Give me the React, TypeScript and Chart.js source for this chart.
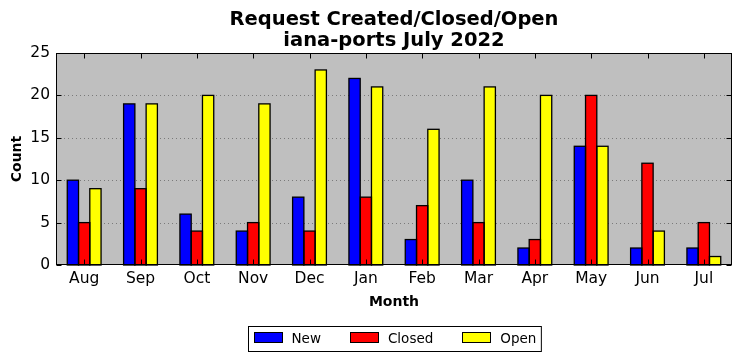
import React, { useEffect, useRef } from 'react';
import { Chart, registerables } from 'chart.js';

Chart.register(...registerables);

const months = ['Aug', 'Sep', 'Oct', 'Nov', 'Dec', 'Jan', 'Feb', 'Mar', 'Apr', 'May', 'Jun', 'Jul'];
const newCounts = [10, 19, 6, 4, 8, 22, 3, 10, 2, 14, 2, 2];
const closedCounts = [5, 9, 4, 5, 4, 8, 7, 5, 3, 20, 12, 5];
const openCounts = [9, 19, 20, 19, 23, 21, 16, 21, 20, 14, 4, 1];
const yTickValues = [0, 5, 10, 15, 20, 25];
const titleLines = ['Request Created/Closed/Open', 'iana-ports July 2022'];
const xTitle = 'Month';
const yTitle = 'Count';

const FONT = '"DejaVu Sans", sans-serif';

const decorPlugin = {
  id: 'decor',
  beforeDraw(chart: any) {
    const { ctx, chartArea } = chart;
    ctx.save();
    ctx.fillStyle = '#ffffff';
    ctx.fillRect(0, 0, chart.width, chart.height);
    ctx.fillStyle = '#bfbfbf';
    ctx.fillRect(chartArea.left, chartArea.top, chartArea.right - chartArea.left, chartArea.bottom - chartArea.top);
    ctx.restore();
  },
  beforeDatasetsDraw(chart: any) {
    const { ctx, chartArea } = chart;
    const y = chart.scales.y;
    ctx.save();
    ctx.strokeStyle = '#7a7a7a';
    ctx.lineWidth = 1;
    ctx.setLineDash([1, 3]);
    yTickValues.forEach((v) => {
      if (v === 0 || v === 25) return;
      const py = Math.round(y.getPixelForValue(v)) + 0.5;
      ctx.beginPath();
      ctx.moveTo(chartArea.left, py);
      ctx.lineTo(chartArea.right, py);
      ctx.stroke();
    });
    ctx.restore();
  },
  afterDatasetsDraw(chart: any) {
    const { ctx } = chart;
    ctx.save();
    ctx.strokeStyle = '#000';
    ctx.lineWidth = 1.3;
    ctx.setLineDash([]);
    chart.data.datasets.forEach((_: any, di: number) => {
      const meta = chart.getDatasetMeta(di);
      meta.data.forEach((bar: any) => {
        const p = bar.getProps(['x', 'y', 'base', 'width'], true);
        ctx.strokeRect(p.x - p.width / 2, p.y, p.width, p.base - p.y);
      });
    });
    ctx.restore();
  },
  afterDraw(chart: any) {
    const { ctx, chartArea } = chart;
    const x = chart.scales.x;
    const y = chart.scales.y;
    const L = Math.round(chartArea.left) + 0.5;
    const R = Math.round(chartArea.right) - 0.5;
    const T = Math.round(chartArea.top) + 0.5;
    const B = Math.round(chartArea.bottom) - 0.5;
    const cx = (chartArea.left + chartArea.right) / 2;
    ctx.save();
    ctx.strokeStyle = '#000';
    ctx.lineWidth = 1;
    ctx.setLineDash([]);
    ctx.strokeRect(L, T, R - L, B - T);
    const tl = 5;
    ctx.beginPath();
    months.forEach((_, i) => {
      const px = Math.round(x.getPixelForTick(i)) + 0.5;
      ctx.moveTo(px, T);
      ctx.lineTo(px, T + tl);
      ctx.moveTo(px, B);
      ctx.lineTo(px, B - tl);
    });
    yTickValues.forEach((v) => {
      const py = Math.round(y.getPixelForValue(v)) + 0.5;
      ctx.moveTo(L, py);
      ctx.lineTo(L + tl, py);
      ctx.moveTo(R, py);
      ctx.lineTo(R - tl, py);
    });
    ctx.stroke();

    ctx.fillStyle = '#000';
    ctx.textAlign = 'center';
    ctx.textBaseline = 'alphabetic';
    ctx.font = `bold 19.5px ${FONT}`;
    ctx.fillText(titleLines[0], cx, 25);
    ctx.fillText(titleLines[1], cx, 46);

    ctx.font = `bold 14px ${FONT}`;
    ctx.fillText(xTitle, cx, 306);
    ctx.save();
    ctx.translate(20.5, (chartArea.top + chartArea.bottom) / 2);
    ctx.rotate(-Math.PI / 2);
    ctx.fillText(yTitle, 0, 0);
    ctx.restore();

    ctx.font = `13.5px ${FONT}`;
    const items = chart.data.datasets.map((d: any) => ({ label: d.label, color: d.backgroundColor }));
    const sw = 28, sh = 10, gapText = 10, gapItem = 29, pad = 5;
    const widths = items.map((it: any) => sw + gapText + ctx.measureText(it.label).width);
    const total = widths.reduce((a: number, b: number) => a + b, 0) + gapItem * (items.length - 1) + pad * 2;
    const bx = Math.round(cx - total / 2) + 0.5;
    const by = 326.5;
    const bh = 25;
    ctx.fillStyle = '#fff';
    ctx.fillRect(bx, by, total, bh);
    ctx.strokeStyle = '#000';
    ctx.strokeRect(bx, by, total, bh);
    let ix = bx + pad;
    items.forEach((it: any, i: number) => {
      const sx = Math.round(ix) + 0.5;
      ctx.fillStyle = it.color;
      ctx.fillRect(sx, 332.5, sw, sh);
      ctx.strokeStyle = '#000';
      ctx.strokeRect(sx, 332.5, sw, sh);
      ctx.fillStyle = '#000';
      ctx.textAlign = 'left';
      ctx.fillText(it.label, ix + sw + gapText, 343);
      ix += widths[i] + gapItem;
    });
    ctx.restore();
  },
};

export default function App() {
  const canvasRef = useRef<HTMLCanvasElement | null>(null);

  useEffect(() => {
    document.body.style.margin = '0';
    const canvas = canvasRef.current;
    if (!canvas) return;
    const chart = new Chart(canvas, {
      type: 'bar',
      data: {
        labels: months,
        datasets: [
          { label: 'New', data: newCounts, backgroundColor: '#0000ff', borderWidth: 0 },
          { label: 'Closed', data: closedCounts, backgroundColor: '#ff0000', borderWidth: 0 },
          { label: 'Open', data: openCounts, backgroundColor: '#ffff00', borderWidth: 0 },
        ],
      },
      options: {
        animation: false,
        responsive: false,
        maintainAspectRatio: false,
        devicePixelRatio: 1,
        layout: { padding: { top: 53, left: 0, right: 10, bottom: 46 } },
        datasets: { bar: { categoryPercentage: 0.6, barPercentage: 1.0 } },
        plugins: {
          legend: { display: false },
          title: { display: false },
          tooltip: { enabled: false },
        },
        scales: {
          x: {
            grid: { display: false, drawTicks: false },
            border: { display: false },
            ticks: { font: { family: FONT, size: 15.5 }, color: '#000', padding: 5, maxRotation: 0 },
            afterFit: (s: any) => { s.height = 50; },
          },
          y: {
            min: 0,
            max: 25,
            grid: { display: false, drawTicks: false },
            border: { display: false },
            ticks: { stepSize: 5, font: { family: FONT, size: 15.5 }, color: '#000', padding: 6 },
            afterFit: (s: any) => { s.width = 56; },
          },
        },
      },
      plugins: [decorPlugin],
    });
    return () => chart.destroy();
  }, []);

  return (
    <div style={{ width: 742, height: 361 }}>
      <canvas ref={canvasRef} width={742} height={361} style={{ display: 'block' }} />
    </div>
  );
}
